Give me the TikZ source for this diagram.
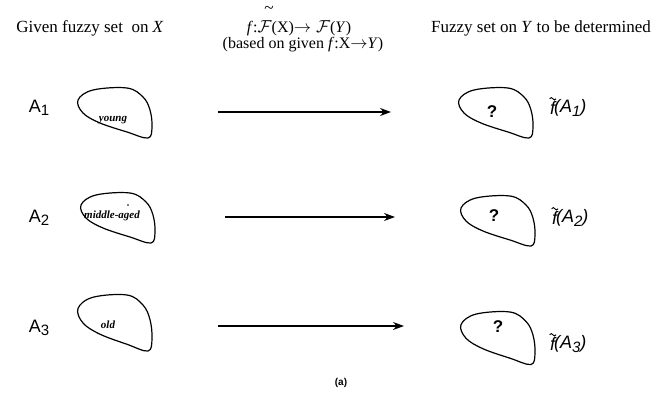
\documentclass[tikz,border=0pt]{standalone}
\usepackage{fontspec}
\setmainfont{Liberation Serif}
\setsansfont{Liberation Sans}
\usetikzlibrary{arrows.meta}
\newcommand{\lowsub}[1]{\raisebox{-3.5pt}{\fontsize{15}{17}\selectfont #1}}
\begin{document}
\begin{tikzpicture}[x=1pt,y=-1pt,
  hdr/.style={font=\fontsize{17}{19}\selectfont, inner sep=0pt},
  hdrm/.style={font=\fontsize{16}{18}\selectfont, inner sep=0pt},
  setlbl/.style={font=\sffamily\fontsize{18}{20}\selectfont, inner sep=0pt},
  flbl/.style={font=\sffamily\itshape\fontsize{18}{20}\selectfont, inner sep=0pt},
  intxt/.style={font=\itshape\bfseries\fontsize{11}{13}\selectfont, inner sep=0pt},
  qm/.style={font=\sffamily\bfseries\fontsize{17}{19}\selectfont, inner sep=0pt},
  maparrow/.style={line width=1.1pt, -{Stealth[length=11pt,width=8pt]}},
  tildemark/.style={line width=0.9pt},
  blob/.pic={\draw[line width=1.2pt] plot[smooth cycle, tension=0.6] coordinates
     {(16,2) (50,0) (66,9) (73,22) (75,39) (71,50) (50,44) (23,35) (6,25) (1,12)};}
]
\useasboundingbox (0,0) rectangle (662,396);
% headers
\node[hdr] (h1) at (90,28) {Given fuzzy set\ \ on \textit{X}};
\node[hdrm] (h2) at (299,28) {\textit{f}:$\mathcal{F}$(X)$\rightarrow\mathcal{F}$(\textit{Y})};
\node[hdrm] (h2t) at (269,10) {\LARGE\~{}};
\node[hdrm] (h3) at (303,45) {(based on given \textit{f}:X$\rightarrow$\textit{Y})};
\node[hdr] (h4) at (541,28) {Fuzzy set on \textit{Y} to be determined};
% left labels
\node[setlbl] (a1) at (39,108) {A\lowsub{1}};
\node[setlbl] (a2) at (39,218) {A\lowsub{2}};
\node[setlbl] (a3) at (39,328) {A\lowsub{3}};
% blobs
\pic at (77,88) {blob};
\pic at (80,193) {blob};
\pic[yscale=1.12] at (77,295) {blob};
\pic at (458,88) {blob};
\pic at (460,196) {blob};
\pic[yscale=1.05] at (460,312) {blob};
% inside texts
\node[intxt] (t1) at (113,120) {young};
\node[intxt] (t2) at (112,216) {middle-aged};
\fill (128,205) circle (0.9);
\node[intxt] (t3) at (108,325) {old};
\node[qm] (q1) at (492,112) {?};
\node[qm] (q2) at (494,216) {?};
\node[qm] (q3) at (498,327) {?};
% right labels
\foreach \i/\x/\y in {1/550/108, 2/552/218, 3/550/344}{
  \node[flbl, anchor=west] (ff\i) at (\x,\y) {f};
  \node[flbl, anchor=west] (fa\i) at ([xshift=-1.5pt]ff\i.east) {(A\lowsub{\i})};
  \draw[tildemark] ([xshift=-3pt,yshift=2.5pt]ff\i.north) sin ++(1.6,-1.2) cos ++(1.6,1.2) sin ++(1.6,1.2) cos ++(1.6,-1.2);
}
% arrows
\coordinate (s1) at (218,112); \coordinate (e1) at (391,112);
\coordinate (s2) at (225,217); \coordinate (e2) at (395,217);
\coordinate (s3) at (218,326); \coordinate (e3) at (404,326);
\draw[maparrow] (s1) -- (e1);
\draw[maparrow] (s2) -- (e2);
\draw[maparrow] (s3) -- (e3);
\node[font=\sffamily\bfseries\fontsize{10}{12}\selectfont, inner sep=0pt] (cap) at (341,383) {(a)};
\end{tikzpicture}
\end{document}
